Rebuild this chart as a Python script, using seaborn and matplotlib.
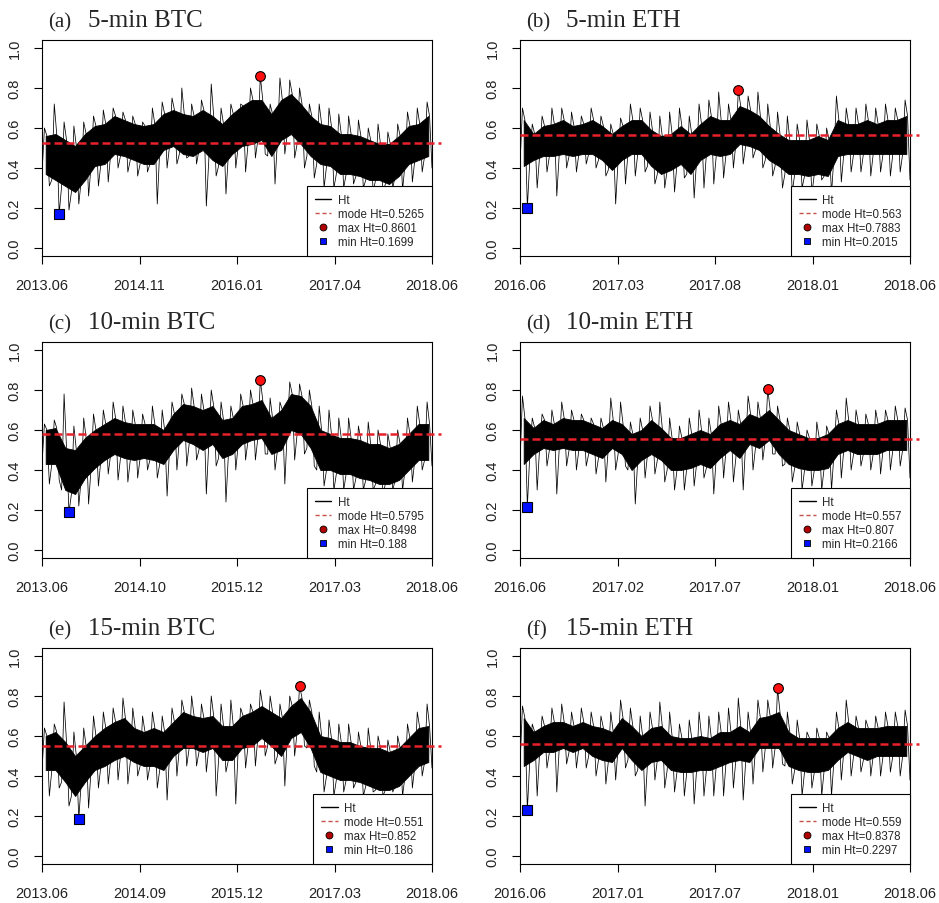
import numpy as np
import pandas as pd
import seaborn as sns
import matplotlib.pyplot as plt
from matplotlib.lines import Line2D

# panel labels and x tick labels (5 evenly spaced dates per panel)
tags = ["(a)", "(b)", "(c)", "(d)", "(e)", "(f)"]
titles = ["5-min BTC", "5-min ETH", "10-min BTC", "10-min ETH", "15-min BTC", "15-min ETH"]
date_ticks = [
    ["2013.06", "2014.11", "2016.01", "2017.04", "2018.06"],
    ["2016.06", "2017.03", "2017.08", "2018.01", "2018.06"],
    ["2013.06", "2014.10", "2015.12", "2017.03", "2018.06"],
    ["2016.06", "2017.02", "2017.07", "2018.01", "2018.06"],
    ["2013.06", "2014.09", "2015.12", "2017.03", "2018.06"],
    ["2016.06", "2017.01", "2017.07", "2018.01", "2018.06"],
]
modes = [0.5265, 0.563, 0.5795, 0.557, 0.551, 0.559]

# Ht swings: high / low reading in 40 equal time slices
hi_a = [0.60, 0.72, 0.63, 0.61, 0.63, 0.66, 0.69, 0.70, 0.68, 0.66,
        0.63, 0.70, 0.73, 0.75, 0.80, 0.72, 0.74, 0.82, 0.70, 0.72,
        0.72, 0.80, 0.8601, 0.72, 0.85, 0.84, 0.80, 0.72, 0.72, 0.70,
        0.67, 0.66, 0.64, 0.60, 0.62, 0.58, 0.62, 0.68, 0.70, 0.73]
lo_a = [0.31, 0.1699, 0.19, 0.22, 0.26, 0.31, 0.33, 0.40, 0.38, 0.36,
        0.38, 0.22, 0.40, 0.42, 0.45, 0.42, 0.21, 0.36, 0.27, 0.40,
        0.38, 0.45, 0.47, 0.32, 0.47, 0.45, 0.40, 0.35, 0.30, 0.30,
        0.30, 0.32, 0.30, 0.28, 0.28, 0.30, 0.29, 0.33, 0.38, 0.40]
hi_b = [0.70, 0.62, 0.66, 0.70, 0.70, 0.68, 0.66, 0.70, 0.66, 0.62,
        0.65, 0.72, 0.70, 0.68, 0.66, 0.68, 0.70, 0.66, 0.72, 0.74,
        0.78, 0.72, 0.7883, 0.76, 0.78, 0.72, 0.68, 0.66, 0.62, 0.64,
        0.62, 0.60, 0.76, 0.70, 0.70, 0.72, 0.70, 0.72, 0.70, 0.74]
lo_b = [0.2015, 0.30, 0.38, 0.26, 0.40, 0.38, 0.42, 0.40, 0.36, 0.22,
        0.32, 0.36, 0.38, 0.32, 0.30, 0.28, 0.35, 0.25, 0.30, 0.32,
        0.35, 0.40, 0.42, 0.45, 0.40, 0.36, 0.30, 0.28, 0.30, 0.27,
        0.34, 0.27, 0.33, 0.38, 0.38, 0.36, 0.38, 0.36, 0.38, 0.34]
hi_c = [0.63, 0.65, 0.78, 0.62, 0.66, 0.68, 0.70, 0.74, 0.72, 0.70,
        0.68, 0.72, 0.70, 0.74, 0.78, 0.81, 0.78, 0.80, 0.74, 0.72,
        0.78, 0.80, 0.8498, 0.76, 0.74, 0.84, 0.83, 0.80, 0.72, 0.70,
        0.66, 0.66, 0.62, 0.64, 0.60, 0.58, 0.60, 0.66, 0.72, 0.74]
lo_c = [0.33, 0.35, 0.188, 0.22, 0.23, 0.32, 0.38, 0.35, 0.34, 0.36,
        0.40, 0.36, 0.27, 0.40, 0.42, 0.45, 0.28, 0.42, 0.24, 0.40,
        0.45, 0.45, 0.48, 0.40, 0.33, 0.45, 0.48, 0.42, 0.32, 0.30,
        0.30, 0.30, 0.30, 0.30, 0.28, 0.30, 0.30, 0.34, 0.40, 0.42]
hi_d = [0.77, 0.66, 0.68, 0.70, 0.74, 0.70, 0.68, 0.66, 0.66, 0.76,
        0.74, 0.64, 0.66, 0.72, 0.74, 0.66, 0.62, 0.66, 0.70, 0.66,
        0.72, 0.74, 0.70, 0.77, 0.74, 0.807, 0.72, 0.66, 0.64, 0.60,
        0.64, 0.62, 0.70, 0.76, 0.70, 0.68, 0.70, 0.70, 0.72, 0.71]
lo_d = [0.2166, 0.30, 0.42, 0.28, 0.42, 0.40, 0.42, 0.38, 0.34, 0.40,
        0.42, 0.23, 0.36, 0.38, 0.34, 0.30, 0.30, 0.32, 0.36, 0.28,
        0.36, 0.34, 0.30, 0.40, 0.45, 0.48, 0.42, 0.34, 0.30, 0.32,
        0.30, 0.30, 0.36, 0.40, 0.42, 0.40, 0.38, 0.40, 0.42, 0.36]
hi_e = [0.64, 0.66, 0.77, 0.62, 0.64, 0.70, 0.72, 0.74, 0.79, 0.74,
        0.70, 0.72, 0.70, 0.74, 0.78, 0.80, 0.76, 0.80, 0.76, 0.78,
        0.74, 0.76, 0.83, 0.80, 0.76, 0.80, 0.852, 0.78, 0.72, 0.68,
        0.66, 0.66, 0.62, 0.64, 0.60, 0.58, 0.60, 0.66, 0.72, 0.76]
lo_e = [0.30, 0.34, 0.25, 0.186, 0.24, 0.34, 0.36, 0.38, 0.36, 0.40,
        0.38, 0.34, 0.28, 0.40, 0.45, 0.45, 0.42, 0.30, 0.42, 0.26,
        0.44, 0.45, 0.50, 0.46, 0.35, 0.50, 0.55, 0.45, 0.32, 0.30,
        0.32, 0.34, 0.30, 0.32, 0.30, 0.32, 0.30, 0.34, 0.40, 0.44]
hi_f = [0.75, 0.66, 0.70, 0.74, 0.76, 0.72, 0.74, 0.72, 0.70, 0.72,
        0.78, 0.74, 0.70, 0.72, 0.77, 0.72, 0.66, 0.68, 0.72, 0.70,
        0.72, 0.74, 0.79, 0.72, 0.78, 0.78, 0.8378, 0.72, 0.68, 0.62,
        0.64, 0.62, 0.72, 0.78, 0.70, 0.68, 0.70, 0.72, 0.72, 0.73]
lo_f = [0.2297, 0.30, 0.44, 0.32, 0.46, 0.44, 0.44, 0.40, 0.36, 0.38,
        0.44, 0.40, 0.25, 0.38, 0.34, 0.32, 0.30, 0.26, 0.30, 0.30,
        0.30, 0.34, 0.28, 0.36, 0.42, 0.44, 0.46, 0.36, 0.30, 0.34,
        0.30, 0.30, 0.38, 0.40, 0.42, 0.40, 0.40, 0.42, 0.40, 0.38]

# the dense (solid black) part of each trace, same 40 slices
core_hi_a = [0.56, 0.57, 0.54, 0.51, 0.57, 0.61, 0.62, 0.66, 0.64, 0.62,
             0.61, 0.62, 0.67, 0.69, 0.67, 0.66, 0.69, 0.66, 0.62, 0.67,
             0.71, 0.74, 0.74, 0.67, 0.74, 0.77, 0.72, 0.66, 0.62, 0.61,
             0.57, 0.57, 0.56, 0.54, 0.52, 0.52, 0.56, 0.61, 0.62, 0.66]
core_lo_a = [0.37, 0.34, 0.31, 0.28, 0.34, 0.41, 0.42, 0.47, 0.46, 0.44,
             0.42, 0.42, 0.49, 0.51, 0.47, 0.46, 0.49, 0.44, 0.41, 0.47,
             0.51, 0.52, 0.54, 0.46, 0.54, 0.57, 0.52, 0.46, 0.42, 0.41,
             0.37, 0.37, 0.36, 0.34, 0.34, 0.32, 0.36, 0.42, 0.44, 0.46]
core_hi_b = [0.64, 0.57, 0.61, 0.62, 0.64, 0.61, 0.62, 0.64, 0.61, 0.57,
             0.61, 0.64, 0.64, 0.59, 0.56, 0.57, 0.61, 0.57, 0.62, 0.66,
             0.64, 0.64, 0.71, 0.69, 0.66, 0.61, 0.57, 0.54, 0.54, 0.54,
             0.56, 0.54, 0.64, 0.62, 0.62, 0.64, 0.62, 0.64, 0.64, 0.66]
core_lo_b = [0.41, 0.44, 0.46, 0.46, 0.47, 0.46, 0.47, 0.47, 0.44, 0.39,
             0.44, 0.47, 0.47, 0.41, 0.37, 0.39, 0.42, 0.37, 0.44, 0.47,
             0.46, 0.47, 0.52, 0.51, 0.49, 0.44, 0.41, 0.37, 0.37, 0.36,
             0.37, 0.36, 0.46, 0.47, 0.47, 0.47, 0.47, 0.47, 0.47, 0.47]
core_hi_c = [0.60, 0.61, 0.51, 0.50, 0.56, 0.60, 0.63, 0.66, 0.64, 0.63,
             0.63, 0.63, 0.60, 0.68, 0.73, 0.72, 0.70, 0.72, 0.65, 0.66,
             0.72, 0.73, 0.75, 0.66, 0.70, 0.78, 0.77, 0.72, 0.60, 0.58,
             0.56, 0.56, 0.55, 0.53, 0.53, 0.51, 0.53, 0.58, 0.63, 0.63]
core_lo_c = [0.43, 0.43, 0.30, 0.28, 0.36, 0.41, 0.45, 0.48, 0.46, 0.45,
             0.46, 0.45, 0.43, 0.50, 0.55, 0.53, 0.50, 0.53, 0.46, 0.48,
             0.53, 0.55, 0.56, 0.48, 0.50, 0.60, 0.58, 0.51, 0.40, 0.40,
             0.38, 0.38, 0.36, 0.35, 0.33, 0.33, 0.35, 0.40, 0.45, 0.45]
core_hi_d = [0.66, 0.61, 0.65, 0.63, 0.66, 0.65, 0.65, 0.63, 0.61, 0.65,
             0.63, 0.58, 0.60, 0.65, 0.61, 0.56, 0.56, 0.58, 0.60, 0.58,
             0.63, 0.65, 0.63, 0.68, 0.66, 0.70, 0.65, 0.60, 0.58, 0.56,
             0.56, 0.58, 0.63, 0.65, 0.63, 0.63, 0.63, 0.65, 0.65, 0.65]
core_lo_d = [0.43, 0.48, 0.51, 0.50, 0.51, 0.50, 0.50, 0.48, 0.46, 0.51,
             0.48, 0.40, 0.45, 0.48, 0.45, 0.40, 0.40, 0.41, 0.43, 0.41,
             0.46, 0.50, 0.46, 0.53, 0.51, 0.55, 0.48, 0.43, 0.41, 0.40,
             0.40, 0.41, 0.48, 0.50, 0.48, 0.48, 0.48, 0.50, 0.50, 0.50]
core_hi_e = [0.60, 0.62, 0.57, 0.50, 0.55, 0.60, 0.64, 0.67, 0.69, 0.64,
             0.62, 0.64, 0.62, 0.67, 0.72, 0.70, 0.69, 0.70, 0.65, 0.65,
             0.70, 0.72, 0.75, 0.72, 0.69, 0.75, 0.79, 0.72, 0.60, 0.59,
             0.57, 0.57, 0.55, 0.54, 0.54, 0.52, 0.54, 0.59, 0.64, 0.65]
core_lo_e = [0.43, 0.43, 0.37, 0.30, 0.37, 0.43, 0.45, 0.48, 0.50, 0.47,
             0.45, 0.45, 0.43, 0.50, 0.54, 0.54, 0.52, 0.54, 0.48, 0.48,
             0.54, 0.55, 0.59, 0.55, 0.50, 0.59, 0.62, 0.54, 0.42, 0.40,
             0.38, 0.38, 0.37, 0.35, 0.33, 0.33, 0.35, 0.40, 0.45, 0.47]
core_hi_f = [0.69, 0.62, 0.65, 0.67, 0.67, 0.65, 0.67, 0.65, 0.64, 0.62,
             0.69, 0.65, 0.60, 0.64, 0.65, 0.60, 0.59, 0.59, 0.60, 0.59,
             0.62, 0.62, 0.65, 0.62, 0.69, 0.70, 0.72, 0.62, 0.59, 0.59,
             0.59, 0.59, 0.64, 0.67, 0.64, 0.64, 0.64, 0.65, 0.65, 0.65]
core_lo_f = [0.45, 0.48, 0.52, 0.52, 0.54, 0.52, 0.54, 0.50, 0.48, 0.47,
             0.54, 0.48, 0.43, 0.47, 0.48, 0.43, 0.42, 0.42, 0.43, 0.43,
             0.45, 0.47, 0.48, 0.47, 0.54, 0.54, 0.54, 0.45, 0.43, 0.42,
             0.42, 0.43, 0.48, 0.52, 0.50, 0.48, 0.50, 0.50, 0.50, 0.50]

panels = [
    (hi_a, lo_a, core_hi_a, core_lo_a),
    (hi_b, lo_b, core_hi_b, core_lo_b),
    (hi_c, lo_c, core_hi_c, core_lo_c),
    (hi_d, lo_d, core_hi_d, core_lo_d),
    (hi_e, lo_e, core_hi_e, core_lo_e),
    (hi_f, lo_f, core_hi_f, core_lo_f),
]

sns.set_style("ticks")
plt.rcParams["font.family"] = ["Liberation Sans", "DejaVu Sans"]

W, H = 939, 904
fig = plt.figure(figsize=(W / 100, H / 100), dpi=100)

col_left = [42, 520]
row_top = [41, 343, 649]
ax_w, ax_h = 390, 216

for k, (hi, lo, chi, clo) in enumerate(panels):
    r, c = divmod(k, 2)
    ax = fig.add_axes([col_left[c] / W, 1 - (row_top[r] + ax_h) / H, ax_w / W, ax_h / H])

    # trace through each slice: band bottom, upper spike, band top, lower spike
    ht = np.column_stack([clo, hi, chi, lo]).ravel()
    df = pd.DataFrame({"t": np.arange(len(ht)), "Ht": ht})
    n = len(ht)

    core_t = np.arange(len(chi)) * 4 + 1.5
    ax.fill_between(core_t, clo, chi, color="black", lw=0.6, edgecolor="black", zorder=2)
    sns.lineplot(data=df, x="t", y="Ht", ax=ax, color="black", lw=0.55,
                 estimator=None, zorder=3)
    ax.axhline(modes[k], xmin=0, xmax=1.023, clip_on=False,
               color="#e8202a", lw=1.8, ls=(0, (3.2, 1.6)), zorder=4)

    imax, imin = df["Ht"].idxmax(), df["Ht"].idxmin()
    ax.plot(imax, ht[imax], "o", ms=7, mfc="#ff1010", mec="black", mew=0.8, zorder=5)
    ax.plot(imin, ht[imin], "s", ms=6.5, mfc="#0010ff", mec="black", mew=0.8, zorder=5)

    ax.set_xlim(0, n - 1)
    ax.set_ylim(-0.04, 1.04)
    ax.set_xticks(np.linspace(0, n - 1, 5))
    ax.set_xticklabels(date_ticks[k])
    ax.set_yticks([0, 0.2, 0.4, 0.6, 0.8, 1.0])
    ax.set_yticklabels(["0.0", "0.2", "0.4", "0.6", "0.8", "1.0"], rotation=90, va="center")
    ax.set_xlabel("")
    ax.set_ylabel("")
    ax.tick_params(direction="out", length=6, width=0.8, labelsize=10.5,
                   colors="black", labelcolor="#222222")
    ax.tick_params(axis="x", pad=10)
    ax.tick_params(axis="y", pad=8.5)
    for s in ax.spines.values():
        s.set_visible(True)
        s.set_color("black")
        s.set_linewidth(0.8)

    handles = [
        Line2D([], [], color="black", lw=1),
        Line2D([], [], color="#c8504a", lw=1, ls=(0, (3, 2))),
        Line2D([], [], ls="none", marker="o", ms=5, mfc="#b00000", mec="black", mew=0.6),
        Line2D([], [], ls="none", marker="s", ms=5, mfc="#0010ff", mec="black", mew=0.6),
    ]
    labels = ["Ht", f"mode Ht={modes[k]:g}", f"max Ht={ht[imax]:g}", f"min Ht={ht[imin]:g}"]
    leg = ax.legend(handles, labels, loc="lower right", borderaxespad=0, fontsize=8.3,
                    frameon=True, fancybox=False, edgecolor="black", framealpha=1,
                    handlelength=1.4, handletextpad=0.6, labelspacing=0.18, borderpad=0.7)
    leg.get_frame().set_linewidth(0.8)
    leg.set_zorder(6)

    ax.text(6 / ax_w, 1 + 14 / ax_h, tags[k], transform=ax.transAxes,
            family="Liberation Serif", size=15, va="baseline", ha="left")
    ax.text(46 / ax_w, 1 + 14 / ax_h, titles[k], transform=ax.transAxes,
            family="Liberation Serif", size=18, va="baseline", ha="left")

fig.savefig("out.png", dpi=100)
